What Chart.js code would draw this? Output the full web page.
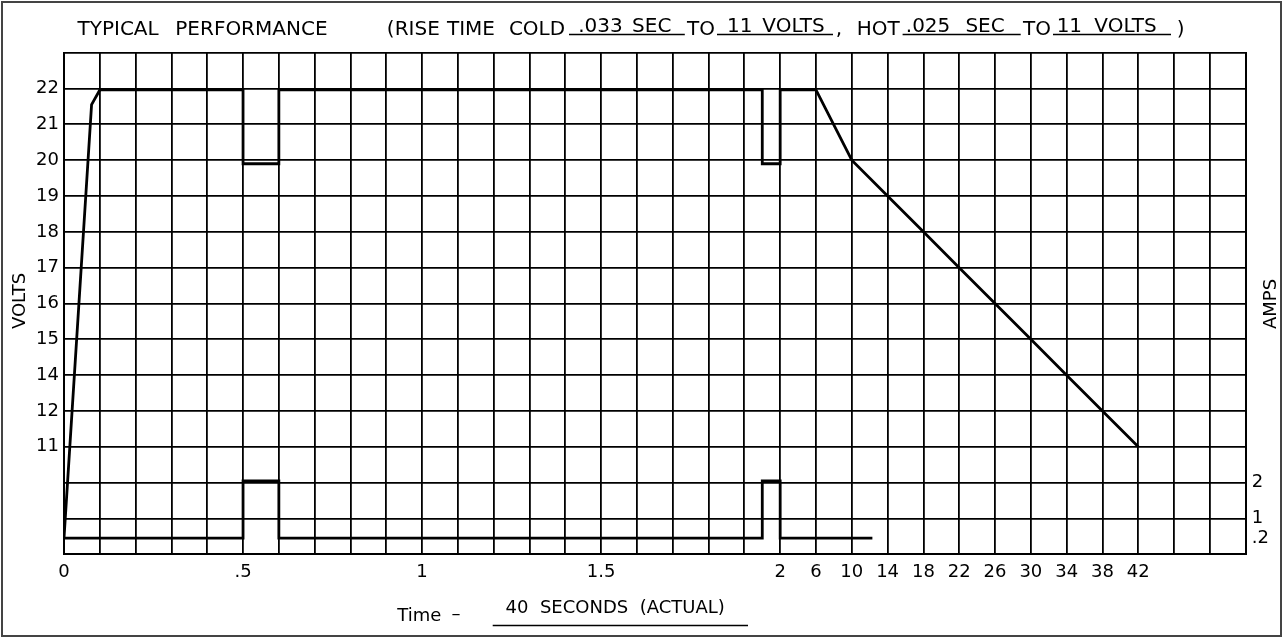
<!DOCTYPE html>
<html>
<head>
<meta charset="utf-8">
<script src="https://cdn.jsdelivr.net/npm/chart.js@4.4.1/dist/chart.umd.min.js"></script>
<style>
  body { margin: 0; background: #fff; }
  #wrap { width: 1283px; height: 638px; position: relative; }
</style>
</head>
<body>
<div id="wrap"><canvas id="myChart"></canvas></div>
<script>
// voltage trace (seconds, volts)
const voltsTime = [0, 0.077, 0.1, 0.5, 0.5, 0.6, 0.6, 1.95, 1.95, 2.0, 2.0, 6, 10, 14, 18, 22, 26, 30, 34, 38, 42];
const voltsValue = [0, 21.55, 21.96, 21.96, 19.9, 19.9, 21.96, 21.96, 19.9, 19.9, 21.96, 21.96, 20, 19, 18, 17, 16, 15, 14, 12, 11];

// current trace (seconds, amps)
const ampsTime = [0, 0.5, 0.5, 0.6, 0.6, 1.95, 1.95, 2.0, 2.0, 12.3];
const ampsValue = [0.2, 0.2, 2.05, 2.05, 0.2, 0.2, 2.05, 2.05, 0.2, 0.2];

// tick labels
const xTickTimes = [0, 0.5, 1, 1.5, 2, 6, 10, 14, 18, 22, 26, 30, 34, 38, 42];
const xTickLabels = ["0", ".5", "1", "1.5", "2", "6", "10", "14", "18", "22", "26", "30", "34", "38", "42"];
const voltTicks = [11, 12, 14, 15, 16, 17, 18, 19, 20, 21, 22];
const ampTicks = [0.2, 1, 2];
const ampTickLabels = [".2", "1", "2"];

// the paper grid is not linear: 0-2 s at .1 s per cell, then 4 s per cell
function timeToCol(t) {
  return t <= 2 ? t * 10 : 20 + (t - 2) / 4;
}
const AMP_BASE = 0.45;
function ampsToRow(a) {
  if (a >= 1) return a;
  return AMP_BASE + ((a - 0.2) * (1 - AMP_BASE)) / 0.8;
}
function voltsToRow(v) {
  if (v >= 14) return v - 9;
  if (v >= 12) return 4 + (v - 12) / 2;
  if (v >= 11) return 3 + (v - 11);
  return AMP_BASE + ((3 - AMP_BASE) * v) / 11;
}

const voltsData = voltsTime.map((t, i) => ({ x: timeToCol(t), y: voltsToRow(voltsValue[i]) }));
const ampsData = ampsTime.map((t, i) => ({ x: timeToCol(t), y: ampsToRow(ampsValue[i]) }));

function near(a, b) {
  return Math.abs(a - b) < 1e-6;
}

// centre a word in the span it has on the sheet
function putText(ctx, str, x0, x1, y) {
  ctx.textAlign = "center";
  ctx.fillText(str, (x0 + x1) / 2, y);
}

const sheetText = {
  id: "sheetText",
  afterDraw(chart) {
    const ctx = chart.ctx;
    ctx.save();
    ctx.fillStyle = "#000";
    ctx.strokeStyle = "#000";
    ctx.font = "20px 'DejaVu Sans'";
    ctx.textBaseline = "alphabetic";

    // header line
    putText(ctx, "TYPICAL", 79.4, 156.8, 35);
    putText(ctx, "PERFORMANCE", 175, 327.8, 35);
    putText(ctx, "(RISE", 384.8, 441.8, 35);
    putText(ctx, "TIME", 452, 490, 35);
    putText(ctx, "COLD", 513, 561, 35);
    putText(ctx, "TO", 688.9, 713.3, 35);
    putText(ctx, ",", 836, 842, 35);
    putText(ctx, "HOT", 860, 896.5, 35);
    putText(ctx, "TO", 1024.8, 1049, 35);
    putText(ctx, ")", 1177.5, 1183.6, 35);

    // filled-in values sit on their underlines
    putText(ctx, ".033", 578, 623, 31.5);
    putText(ctx, "SEC", 633, 670.5, 31.5);
    putText(ctx, "11", 731.6, 748, 31.5);
    putText(ctx, "VOLTS", 758, 829, 31.5);
    putText(ctx, ".025", 906.7, 949.4, 31.5);
    putText(ctx, "SEC", 965.7, 1004.4, 31.5);
    putText(ctx, "11", 1061, 1077.7, 31.5);
    putText(ctx, "VOLTS", 1090, 1161, 31.5);

    ctx.lineWidth = 1.5;
    [[569, 684.8], [717, 833], [902.6, 1020.7], [1053, 1171]].forEach(([a, b]) => {
      ctx.beginPath();
      ctx.moveTo(a, 34.5);
      ctx.lineTo(b, 34.5);
      ctx.stroke();
    });

    // bottom caption
    ctx.font = "18px 'DejaVu Sans'";
    putText(ctx, "Time", 401, 437.7, 621);
    putText(ctx, "\u2013", 450, 462, 619);
    putText(ctx, "40  SECONDS  (ACTUAL)", 502.8, 727.5, 613);
    ctx.beginPath();
    ctx.moveTo(492.7, 625.5);
    ctx.lineTo(748, 625.5);
    ctx.stroke();

    // side titles
    ctx.textAlign = "center";
    ctx.textBaseline = "middle";
    ctx.save();
    ctx.translate(20, 301);
    ctx.rotate(-Math.PI / 2);
    ctx.fillText("VOLTS", 0, 0);
    ctx.restore();
    ctx.save();
    ctx.translate(1271, 304);
    ctx.rotate(-Math.PI / 2);
    ctx.fillText("AMPS", 0, 0);
    ctx.restore();

    // sheet frame
    ctx.strokeStyle = "#444";
    ctx.lineWidth = 2;
    ctx.strokeRect(2, 2, 1279, 634);
    ctx.restore();
  },
};

function makeChart() {
  const ctx = document.getElementById("myChart");
  Chart.defaults.font.family = "'DejaVu Sans'";
  Chart.defaults.font.size = 18;
  Chart.defaults.color = "#000";

  const gridStyle = { color: "#000", lineWidth: 1.8, drawTicks: false };

  new Chart(ctx, {
    type: "line",
    data: {
      datasets: [
        {
          label: "Volts",
          data: voltsData,
          borderColor: "#000",
          borderWidth: 2.8,
          pointRadius: 0,
          tension: 0,
          fill: false,
          borderJoinStyle: "miter",
        },
        {
          label: "Amps",
          data: ampsData,
          borderColor: "#000",
          borderWidth: 2.8,
          pointRadius: 0,
          tension: 0,
          fill: false,
          borderJoinStyle: "miter",
        },
      ],
    },
    options: {
      responsive: true,
      maintainAspectRatio: false,
      animation: false,
      devicePixelRatio: 1,
      layout: { autoPadding: false, padding: { top: 52.7, left: 0, right: 0, bottom: 0 } },
      plugins: { legend: { display: false }, tooltip: { enabled: false } },
      scales: {
        x: {
          type: "linear",
          min: 0,
          max: 33,
          grid: gridStyle,
          border: { display: true, color: "#000", width: 2 },
          afterFit: (s) => { s.height = 638 - 554.3; },
          ticks: {
            stepSize: 1,
            autoSkip: false,
            maxRotation: 0,
            padding: 7,
            callback: function (value) {
              const i = xTickTimes.findIndex((t) => near(timeToCol(t), value));
              return i >= 0 ? xTickLabels[i] : "";
            },
          },
        },
        y: {
          type: "linear",
          position: "left",
          min: 0,
          max: 14,
          grid: gridStyle,
          border: { display: true, color: "#000", width: 2 },
          afterFit: (s) => { s.width = 64; },
          ticks: {
            stepSize: 1,
            autoSkip: false,
            padding: 5,
            callback: function (value) {
              const v = voltTicks.find((t) => near(voltsToRow(t), value));
              return v === undefined ? "" : String(v);
            },
          },
        },
        y2: {
          type: "linear",
          position: "right",
          min: 0,
          max: 14,
          grid: { display: false, drawTicks: false },
          border: { display: true, color: "#000", width: 2 },
          afterFit: (s) => { s.width = 1283 - 1245.7; },
          afterBuildTicks: (s) => {
            s.ticks = ampTicks.map((a) => ({ value: ampsToRow(a) }));
          },
          ticks: {
            autoSkip: false,
            padding: 6,
            callback: function (value) {
              const i = ampTicks.findIndex((a) => near(ampsToRow(a), value));
              return i >= 0 ? ampTickLabels[i] : "";
            },
          },
        },
      },
    },
    plugins: [sheetText],
  });
}

makeChart();
</script>
</body>
</html>
